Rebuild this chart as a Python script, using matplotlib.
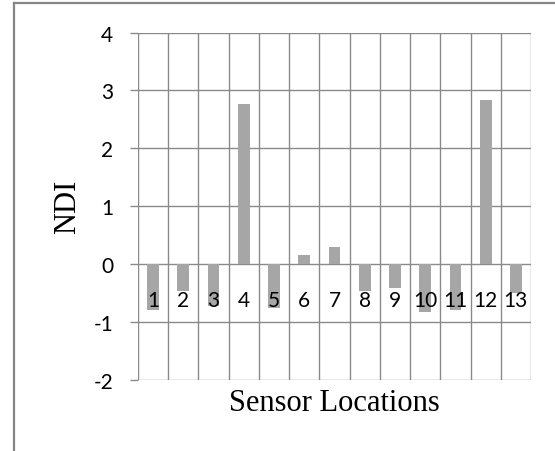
import matplotlib
matplotlib.use("Agg")
import matplotlib.pyplot as plt
from matplotlib.lines import Line2D

# NDI per sensor location
sensors = ["1", "2", "3", "4", "5", "6", "7", "8", "9", "10", "11", "12", "13"]
ndi = [-0.79, -0.46, -0.73, 2.76, -0.75, 0.15, 0.29, -0.46, -0.42, -0.82, -0.79, 2.83, -0.50]
y_ticks = [-2, -1, 0, 1, 2, 3, 4]

W, H = 555, 452
fig = plt.figure(figsize=(W / 100, H / 100), dpi=100)
grid_c = "#8a8a8a"
bar_c = "#a6a6a6"

# axes placed in pixel terms
left, right, top, bottom = 138, 531, 33.5, 381
ax = fig.add_axes([left / W, 1 - bottom / H, (right - left) / W, (bottom - top) / H])

x = list(range(1, len(sensors) + 1))
ax.bar(x, ndi, width=0.39, color=bar_c, zorder=3)

ax.set_xlim(0.5, len(sensors) + 0.5)
ax.set_ylim(-2, 4)

# gridlines: horizontal at each unit, vertical at category borders
for yv in y_ticks:
    ax.axhline(yv, color=grid_c, lw=1.0, zorder=1)
for i in range(len(sensors) + 1):
    ax.axvline(0.5 + i, color=grid_c, lw=1.0, zorder=1)

for s in ax.spines.values():
    s.set_visible(False)

ax.set_xticks([])
ax.set_yticks(y_ticks)
ax.set_yticklabels([str(v) for v in y_ticks], fontfamily="Lato", fontsize=15)
ax.tick_params(axis="y", length=5.8, width=1.0, color=grid_c, pad=12)

# category labels sit just below the zero line
for xi, lab in zip(x, sensors):
    ax.text(xi, -0.725, lab, ha="center", va="baseline",
            fontfamily="Lato", fontsize=15, zorder=4)

ax.set_ylabel("NDI", fontfamily="Liberation Serif", fontsize=22, labelpad=8)
ax.set_xlabel("Sensor Locations", fontfamily="Liberation Serif", fontsize=22, labelpad=6)

# outer chart frame (top and left edges)
fig.add_artist(Line2D([14 / W, 14 / W], [0, 1 - 4 / H], transform=fig.transFigure,
                      color="#868686", lw=1.6))
fig.add_artist(Line2D([14 / W, 1], [1 - 4 / H, 1 - 4 / H], transform=fig.transFigure,
                      color="#868686", lw=1.6))

fig.savefig("out.png", dpi=100)
